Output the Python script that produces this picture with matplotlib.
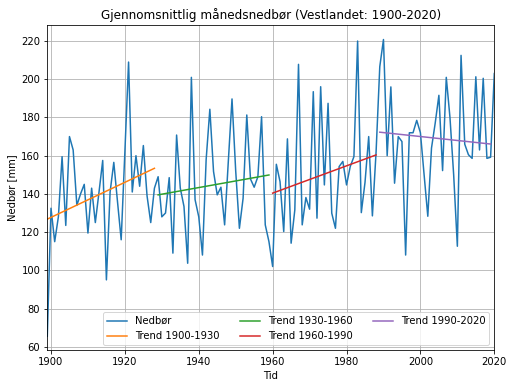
import matplotlib.pyplot as plt
import numpy as np

years = np.arange(1899, 2021)
nedbor = [
    65.5,
    132.5, 115, 128, 159.5, 123.5, 170, 163, 134, 140, 145,
    119.5, 143, 125, 141, 157.5, 95, 141, 156.5, 136, 116,
    162, 209, 141, 160, 144, 165.3, 139, 125, 143, 149,
    128, 130, 148.5, 109, 170.8, 143, 133.4, 103.7, 201, 137,
    128, 108, 158, 184.3, 151.7, 139.5, 143.5, 123.8, 157, 189.7,
    152, 122, 137.7, 181.3, 147.8, 143.5, 149, 180.4, 123.8, 115,
    102, 155.5, 146.4, 120.3, 168.8, 114.2, 131.6, 207.8, 123.8, 138.1,
    132, 193.5, 127.3, 196.1, 144.7, 187.4, 129.9, 122, 154.3, 157,
    144.7, 154.3, 159.5, 220, 130.2, 146, 170, 128.5, 162, 206.6,
    220.8, 160, 196, 145.6, 170, 167.4, 108, 172, 172, 178.5,
    172, 150, 128.3, 164, 177, 191.6, 152.2, 201, 180, 150,
    112.6, 212.5, 166, 160.5, 158.6, 201.3, 163, 200.5, 158.6, 159.2,
    203,
]

# trendlinjer: (start, slutt) aar og verdi
trend_labels = ["Trend 1900-1930", "Trend 1930-1960", "Trend 1960-1990", "Trend 1990-2020"]
trend_years = [(1899, 1928), (1929, 1959), (1960, 1988), (1989, 2019)]
trend_values = [(126.8, 153.4), (139.5, 149.9), (140.4, 160.4), (172.3, 166.1)]

fig = plt.figure(figsize=(513 / 72, 388 / 72), dpi=72)
ax = fig.add_axes([47.3 / 513, 1 - 350 / 388, 447 / 513, 325 / 388])

ax.plot(years, nedbor, label="Nedbør")
for lab, ty, tv in zip(trend_labels, trend_years, trend_values):
    ax.plot(ty, tv, label=lab)

ax.set_xlim(1899, 2020)
ax.set_ylim(58.3, 228.4)
ax.set_xticks(np.arange(1900, 2021, 20))
ax.set_yticks(np.arange(60, 221, 20))
ax.grid(True)
ax.set_title("Gjennomsnittlig månedsnedbør (Vestlandet: 1900-2020)")
ax.set_xlabel("Tid")
ax.set_ylabel("Nedbør [mm]")
ax.legend(loc="lower right", ncol=3)

fig.savefig("out.png", dpi=72)
